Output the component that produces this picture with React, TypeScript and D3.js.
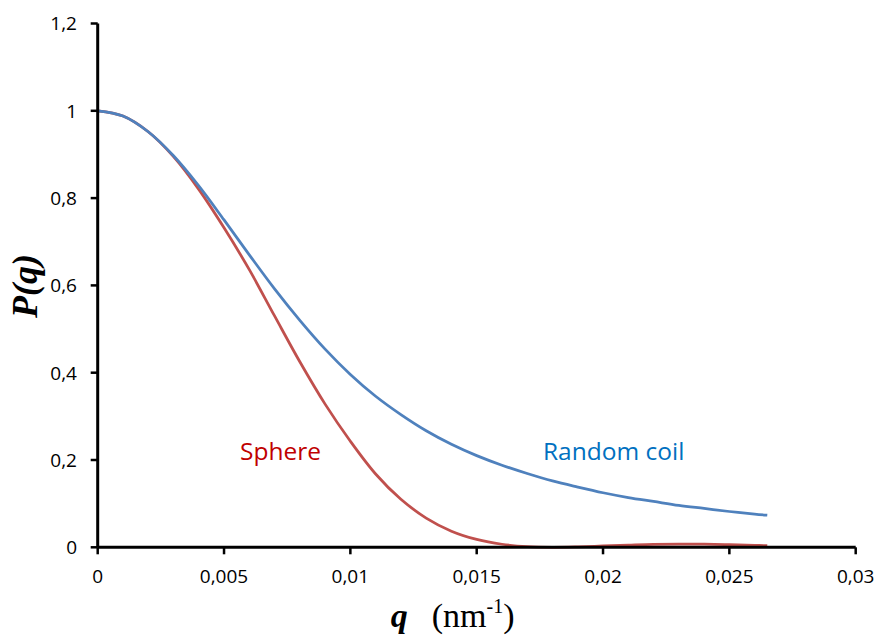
import React from "react";
import * as d3 from "d3";

const qValues = [0, 0.001, 0.002, 0.003, 0.004, 0.005, 0.006, 0.007, 0.008, 0.009, 0.01, 0.011, 0.012, 0.013, 0.014, 0.015, 0.016, 0.017, 0.018, 0.019, 0.02, 0.021, 0.022, 0.023, 0.024, 0.025, 0.026, 0.0265];
const sphereValues = [1.0, 0.988, 0.952, 0.895, 0.82, 0.732, 0.636, 0.53, 0.425, 0.328, 0.243, 0.168, 0.11, 0.067, 0.037, 0.018, 0.007, 0.0015, 0.0, 0.001, 0.003, 0.005, 0.0068, 0.0074, 0.007, 0.006, 0.0045, 0.0037];
const coilValues = [1.0, 0.988, 0.952, 0.897, 0.828, 0.75, 0.67, 0.592, 0.52, 0.454, 0.396, 0.346, 0.304, 0.267, 0.236, 0.21, 0.188, 0.169, 0.152, 0.138, 0.125, 0.114, 0.105, 0.096, 0.089, 0.082, 0.076, 0.0735];

const xTicks = [0, 0.005, 0.01, 0.015, 0.02, 0.025, 0.03];
const xTickLabels = ["0", "0,005", "0,01", "0,015", "0,02", "0,025", "0,03"];
const yTicks = [0, 0.2, 0.4, 0.6, 0.8, 1.0, 1.2];
const yTickLabels = ["0", "0,2", "0,4", "0,6", "0,8", "1", "1,2"];

const seriesNames = ["Sphere", "Random coil"];

export default function App() {
  const W = 876, H = 635;
  const x = d3.scaleLinear().domain([0, 0.03]).range([97.7, 855.7]);
  const y = d3.scaleLinear().domain([0, 1.2]).range([547.3, 23.5]);
  const line = d3
    .line<number>()
    .x((_, i) => x(qValues[i]))
    .y((d) => y(d))
    .curve(d3.curveCatmullRom.alpha(0.5));

  const tickFont = "'Open Sans', 'Noto Sans', sans-serif";
  const serif = "'Liberation Serif', 'DejaVu Serif', serif";
  const x0 = x(0), y0 = y(0);

  return (
    <svg width={W} height={H} style={{ position: "absolute", left: 0, top: 0, background: "#fff" }}>
      <rect x={0} y={0} width={W} height={H} fill="#fff" />
      {/* curves */}
      <path d={line(sphereValues) || ""} fill="none" stroke="#C0504D" strokeWidth={2.75} strokeLinejoin="round" />
      <path d={line(coilValues) || ""} fill="none" stroke="#4F81BD" strokeWidth={2.75} strokeLinejoin="round" />

      {/* axes */}
      <line x1={x0} x2={x(0.03)} y1={y0} y2={y0} stroke="#000" strokeWidth={3} />
      <line x1={x0} x2={x0} y1={y(1.2)} y2={y0} stroke="#000" strokeWidth={3} />
      {xTicks.map((t, i) => (
        <g key={"xt" + i}>
          <line x1={x(t)} x2={x(t)} y1={y0} y2={y0 + 7} stroke="#000" strokeWidth={2.5} />
          <text x={x(t)} y={583} textAnchor="middle" fontFamily={tickFont} fontSize={19} fill="#000">
            {xTickLabels[i]}
          </text>
        </g>
      ))}
      {yTicks.map((t, i) => (
        <g key={"yt" + i}>
          <line x1={x0 - 7} x2={x0} y1={y(t)} y2={y(t)} stroke="#000" strokeWidth={2.5} />
          <text x={77} y={y(t) + 6.8} textAnchor="end" fontFamily={tickFont} fontSize={19} fill="#000">
            {yTickLabels[i]}
          </text>
        </g>
      ))}

      {/* series labels */}
      <text x={240} y={460} fontFamily={tickFont} fontSize={24.5} fill="#C00000">{seriesNames[0]}</text>
      <text x={543} y={460} fontFamily={tickFont} fontSize={24.5} fill="#0070C0">{seriesNames[1]}</text>

      {/* axis titles */}
      <text
        transform={`translate(37,286) rotate(-90)`}
        textAnchor="middle"
        fontFamily={serif}
        fontSize={36}
        fontWeight="bold"
        fontStyle="italic"
        fill="#000"
      >
        P(q)
      </text>
      <text x={390.7} y={627} fontFamily={serif} fontSize={34} fill="#000">
        <tspan fontWeight="bold" fontStyle="italic">q</tspan>
        <tspan x={431.7}>(nm</tspan>
        <tspan dy={-14} fontSize={20}>-1</tspan>
        <tspan dy={14}>)</tspan>
      </text>
    </svg>
  );
}
